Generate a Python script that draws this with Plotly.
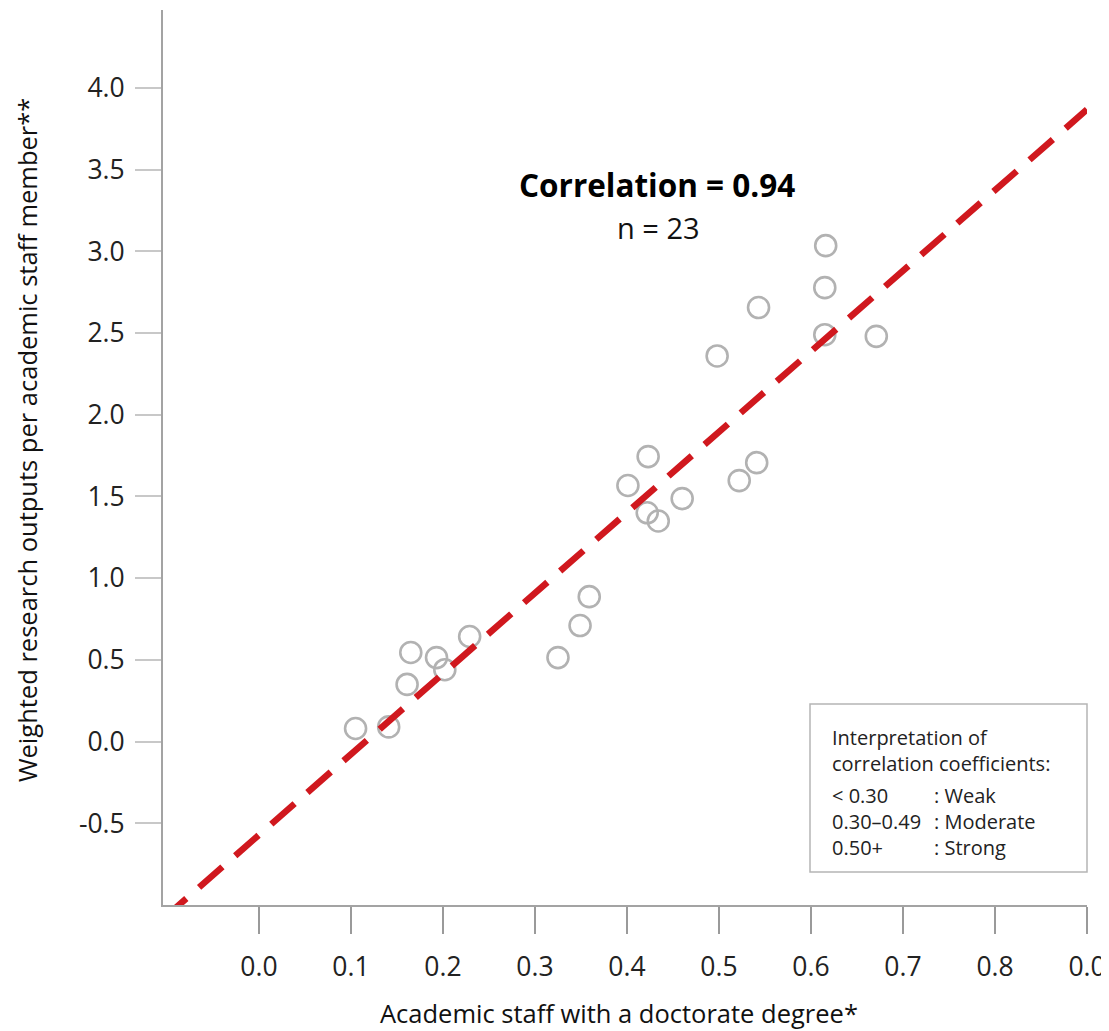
import plotly.graph_objects as go

# ---- data ----
staff_doctorate = [0.105, 0.141, 0.161, 0.165, 0.193, 0.202, 0.229, 0.325, 0.349, 0.359,
                   0.401, 0.423, 0.422, 0.434, 0.460, 0.498, 0.522, 0.541, 0.543,
                   0.616, 0.615, 0.615, 0.671]
research_outputs = [0.08, 0.09, 0.35, 0.545, 0.514, 0.44, 0.643, 0.514, 0.71, 0.887,
                    1.567, 1.744, 1.40, 1.35, 1.487, 2.36, 1.597, 1.707, 2.656,
                    3.035, 2.778, 2.49, 2.48]
fit_intercept = -0.571
fit_slope = 4.932
x_tick_vals = [0.0, 0.1, 0.2, 0.3, 0.4, 0.5, 0.6, 0.7, 0.8, 0.9]
x_tick_labels = ["0.0", "0.1", "0.2", "0.3", "0.4", "0.5", "0.6", "0.7", "0.8", "0.0"]
y_tick_vals = [-0.5, 0.0, 0.5, 1.0, 1.5, 2.0, 2.5, 3.0, 3.5, 4.0]
y_tick_labels = ["-0.5", "0.0", "0.5", "1.0", "1.5", "2.0", "2.5", "3.0", "3.5", "4.0"]
legend_left = ["< 0.30", "0.30–0.49", "0.50+"]
legend_right = [": Weak", ": Moderate", ": Strong"]

X_RANGE = [-0.1043, 0.9]
Y_RANGE = [-1.0, 4.477]

OFF = 8  # page body margin
W, H = 1100, 1023
# target plot area in screen pixels: x 163..1087, y 10..905
ML = 163 - OFF
MT = 10 - OFF
MR = W - (1087 - OFF)
MB = H - (905 - OFF)
PW, PH = W - ML - MR, H - MT - MB

def px(xp):
    return (xp - OFF - ML) / PW

def py(yp):
    return (H - MB - (yp - OFF)) / PH

FONT = "Open Sans"
AXIS_COLOR = "#a3a3a3"

fig = go.Figure()

fig.add_trace(go.Scatter(
    x=staff_doctorate, y=research_outputs, mode="markers",
    marker=dict(symbol="circle-open", size=21, color="#b2b2b2", line=dict(width=2.6)),
    showlegend=False, hoverinfo="x+y"))

line_x = [X_RANGE[0], X_RANGE[1]]
line_y = [fit_intercept + fit_slope * v for v in line_x]
fig.add_trace(go.Scatter(
    x=line_x, y=line_y, mode="lines",
    line=dict(color="#d0181e", width=6.5, dash="31px,17px"),
    showlegend=False, hoverinfo="skip"))

fig.update_xaxes(
    range=X_RANGE, showgrid=False, zeroline=False,
    showline=True, linecolor=AXIS_COLOR, linewidth=2,
    ticks="outside", ticklen=27, tickwidth=1.5, tickcolor="#9a9a9a",
    tickvals=x_tick_vals, ticktext=x_tick_labels,
    tickfont=dict(family=FONT, size=26.5, color="#222222"),
    ticklabelstandoff=10)
fig.update_yaxes(
    range=Y_RANGE, showgrid=False, zeroline=False,
    showline=True, linecolor=AXIS_COLOR, linewidth=2,
    ticks="outside", ticklen=26, tickwidth=1.5, tickcolor="#c8c8c8",
    tickvals=y_tick_vals, ticktext=y_tick_labels,
    tickfont=dict(family=FONT, size=26.5, color="#222222"),
    ticklabelstandoff=5)

ann = []
ann.append(dict(text="<b>Correlation = 0.94</b>", x=px(657), y=py(185), xref="paper", yref="paper",
                showarrow=False, xanchor="center", yanchor="middle",
                font=dict(family=FONT, size=31.5, color="#000000")))
ann.append(dict(text="n = 23", x=px(658), y=py(227), xref="paper", yref="paper",
                showarrow=False, xanchor="center", yanchor="middle",
                font=dict(family=FONT, size=29, color="#111111")))
ann.append(dict(text="Weighted research outputs per academic staff member**",
                x=px(27), y=py(440), xref="paper", yref="paper", textangle=-90,
                showarrow=False, xanchor="center", yanchor="middle",
                font=dict(family=FONT, size=25.5, color="#111111")))
ann.append(dict(text="Academic staff with a doctorate degree*",
                x=px(619), y=py(1013), xref="paper", yref="paper",
                showarrow=False, xanchor="center", yanchor="middle",
                font=dict(family=FONT, size=25.5, color="#111111")))

# interpretation box
ann.append(dict(text="Interpretation of<br>correlation coefficients:",
                x=px(830), y=py(722), xref="paper", yref="paper", align="left",
                showarrow=False, xanchor="left", yanchor="top",
                font=dict(family=FONT, size=20, color="#222222")))
ann.append(dict(text="<br>".join(legend_left),
                x=px(830), y=py(780), xref="paper", yref="paper", align="left",
                showarrow=False, xanchor="left", yanchor="top",
                font=dict(family=FONT, size=20, color="#222222")))
ann.append(dict(text="<br>".join(legend_right),
                x=px(932), y=py(780), xref="paper", yref="paper", align="left",
                showarrow=False, xanchor="left", yanchor="top",
                font=dict(family=FONT, size=20, color="#222222")))

shapes = [dict(type="rect", xref="paper", yref="paper",
               x0=px(810), x1=px(1087), y0=py(872), y1=py(704),
               line=dict(color="#b5b5b5", width=1.5), fillcolor="rgba(0,0,0,0)")]

fig.update_layout(
    width=W, height=H,
    margin=dict(l=ML, r=MR, t=MT, b=MB),
    plot_bgcolor="white", paper_bgcolor="white",
    annotations=ann, shapes=shapes,
    font=dict(family=FONT))

fig.write_html("out.html")
